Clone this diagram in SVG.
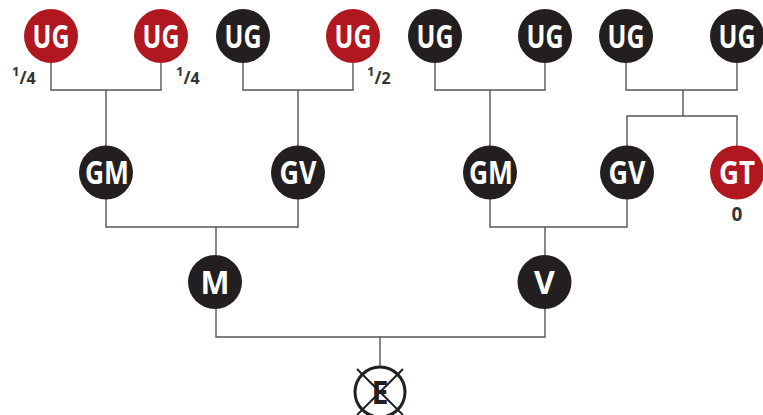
<svg xmlns="http://www.w3.org/2000/svg" width="763" height="415" viewBox="0 0 763 415">
<style>
.red{fill:#B0171F}
.blk{fill:#231F20}
.lbl{font-family:"Open Sans","Liberation Sans",sans-serif;font-weight:bold;fill:#fff;font-size:32px;text-anchor:middle}
.frac{font-family:"Open Sans","Liberation Sans",sans-serif;font-weight:bold;fill:#333;}
.conn{fill:none;stroke:#555;stroke-width:1.4}
</style>
<rect width="763" height="415" fill="#fff"/>
<g id="connectors" class="conn">
<path d="M51,63V90H161V63M106,90V146"/>
<path d="M243,63V90H353V63M298,90V146"/>
<path d="M435,63V90H545V63M490,90V146"/>
<path d="M626,63V90H737V63M683,90V116M627,146V116H737V146"/>
<path d="M106,199V227H298V199M216,227V255"/>
<path d="M490,199V227H627V199M545,227V255"/>
<path d="M216,309V337H545V309M380,337V366"/>
</g>
<g id="ug1"><circle class="red" cx="51" cy="36" r="27"/><text class="lbl" x="51" y="47.5" textLength="37" lengthAdjust="spacingAndGlyphs">UG</text></g>
<g id="ug2"><circle class="red" cx="161" cy="36" r="27"/><text class="lbl" x="161" y="47.5" textLength="37" lengthAdjust="spacingAndGlyphs">UG</text></g>
<g id="ug3"><circle class="blk" cx="243" cy="36" r="27"/><text class="lbl" x="243" y="47.5" textLength="37" lengthAdjust="spacingAndGlyphs">UG</text></g>
<g id="ug4"><circle class="red" cx="353" cy="36" r="27"/><text class="lbl" x="353" y="47.5" textLength="37" lengthAdjust="spacingAndGlyphs">UG</text></g>
<g id="ug5"><circle class="blk" cx="435" cy="36" r="27"/><text class="lbl" x="435" y="47.5" textLength="37" lengthAdjust="spacingAndGlyphs">UG</text></g>
<g id="ug6"><circle class="blk" cx="545" cy="36" r="27"/><text class="lbl" x="545" y="47.5" textLength="37" lengthAdjust="spacingAndGlyphs">UG</text></g>
<g id="ug7"><circle class="blk" cx="626" cy="36" r="27"/><text class="lbl" x="626" y="47.5" textLength="37" lengthAdjust="spacingAndGlyphs">UG</text></g>
<g id="ug8"><circle class="blk" cx="737" cy="36" r="27"/><text class="lbl" x="737" y="47.5" textLength="37" lengthAdjust="spacingAndGlyphs">UG</text></g>
<g id="gm1"><circle class="blk" cx="106" cy="172.5" r="27"/><text class="lbl" x="107" y="184" textLength="44" lengthAdjust="spacingAndGlyphs">GM</text></g>
<g id="gv1"><circle class="blk" cx="298" cy="172.5" r="27"/><text class="lbl" x="298" y="184" textLength="37" lengthAdjust="spacingAndGlyphs">GV</text></g>
<g id="gm2"><circle class="blk" cx="490" cy="172.5" r="27"/><text class="lbl" x="491" y="184" textLength="44" lengthAdjust="spacingAndGlyphs">GM</text></g>
<g id="gv2"><circle class="blk" cx="627" cy="172.5" r="27"/><text class="lbl" x="627" y="184" textLength="37" lengthAdjust="spacingAndGlyphs">GV</text></g>
<g id="gt"><circle class="red" cx="737" cy="172.5" r="27"/><text class="lbl" x="737" y="184" textLength="36" lengthAdjust="spacingAndGlyphs">GT</text><text class="frac" x="737" y="221" font-size="19" text-anchor="middle">0</text></g>
<g id="m"><circle class="blk" cx="215" cy="282" r="27"/><text class="lbl" x="215" y="294" font-size="33" textLength="29" lengthAdjust="spacingAndGlyphs">M</text></g>
<g id="v"><circle class="blk" cx="544.5" cy="282" r="27"/><text class="lbl" x="544.5" y="294" font-size="33">V</text></g>
<g id="e">
<circle cx="380" cy="392" r="25" fill="#fff" stroke="#231F20" stroke-width="3"/>
<path d="M357,369L403,415M403,369L357,415" stroke="#231F20" stroke-width="2"/>
<text x="380" y="404" font-family="'Open Sans','Liberation Sans',sans-serif" font-weight="bold" font-size="32" fill="#231F20" text-anchor="middle" textLength="17" lengthAdjust="spacingAndGlyphs">E</text>
</g>
<g id="fractions" class="frac">
<text x="12" y="84"><tspan font-size="13" dy="-8">1</tspan><tspan font-size="17" dy="8">/</tspan><tspan font-size="16">4</tspan></text>
<text x="176" y="84"><tspan font-size="13" dy="-8">1</tspan><tspan font-size="17" dy="8">/</tspan><tspan font-size="16">4</tspan></text>
<text x="367" y="84"><tspan font-size="13" dy="-8">1</tspan><tspan font-size="17" dy="8">/</tspan><tspan font-size="16">2</tspan></text>
</g>
</svg>
